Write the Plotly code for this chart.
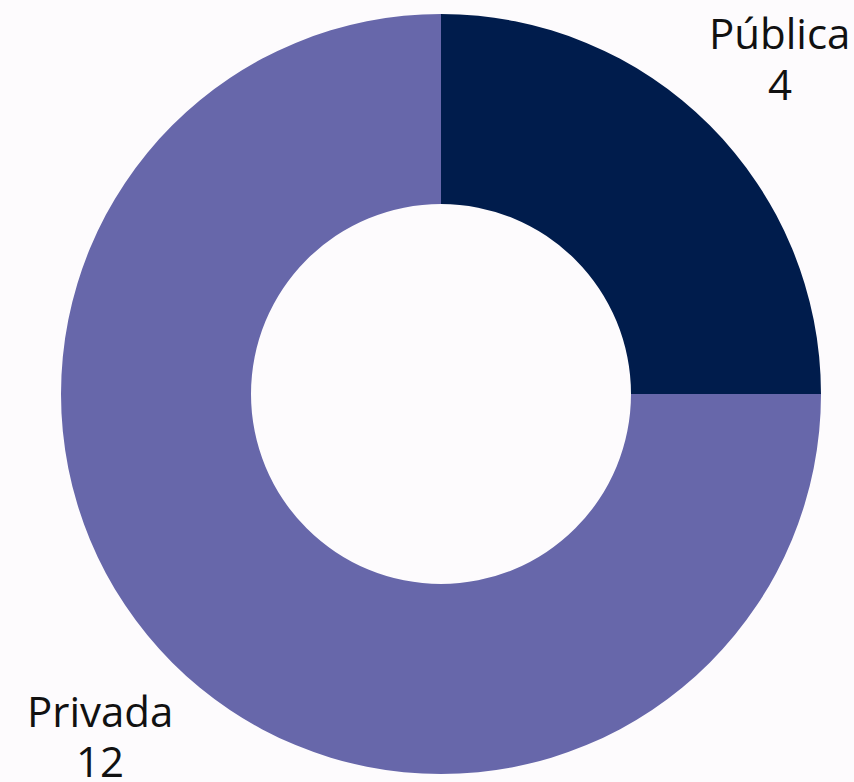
import plotly.graph_objects as go

labels = ["Pública", "Privada"]
values = [4, 12]
colors = ["#001c4c", "#6767aa"]

# label anchor positions (paper coords): (x, y_label, y_value)
label_pos = [(0.946, 0.976, 0.909), (0.0513, 0.0842, 0.0184)]

fig = go.Figure(go.Pie(
    labels=labels,
    values=values,
    hole=0.5,
    sort=False,
    direction="clockwise",
    rotation=0,
    marker=dict(colors=colors, line=dict(width=0)),
    textinfo="none",
    hoverinfo="label+value",
    showlegend=False,
))

font = dict(family="Open Sans", size=42, color="#111111")
for lab, val, (x, yl, yv) in zip(labels, values, label_pos):
    fig.add_annotation(x=x, y=yl, xref="paper", yref="paper", text=lab,
                       showarrow=False, font=font, xanchor="center", yanchor="middle")
    fig.add_annotation(x=x, y=yv, xref="paper", yref="paper", text=str(val),
                       showarrow=False, font=font, xanchor="center", yanchor="middle")

fig.update_layout(
    width=854, height=782,
    margin=dict(l=61, r=33, t=14, b=8),
    paper_bgcolor="#fdfbfd",
    plot_bgcolor="#fdfbfd",
)
fig.write_html(
    "out.html",
    config={"displayModeBar": False},
    post_script="document.body.style.margin='0';document.body.style.overflow='hidden';",
)
